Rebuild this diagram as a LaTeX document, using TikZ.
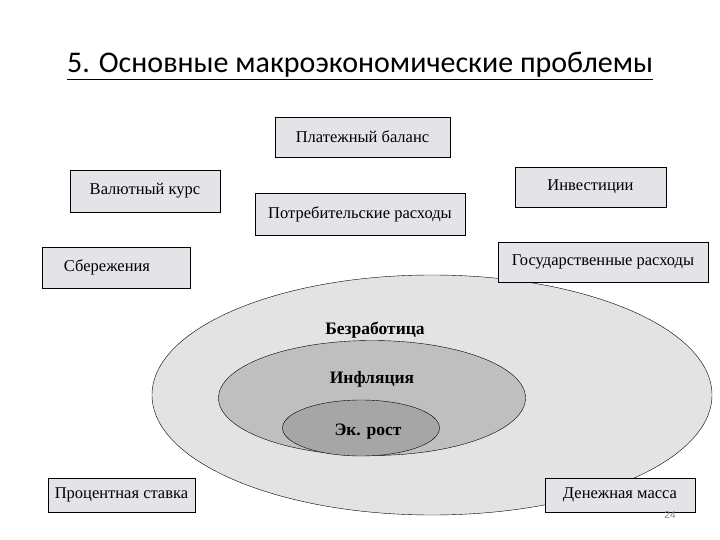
\documentclass[tikz,border=0pt]{standalone}
\usepackage{fontspec}
\usetikzlibrary{shapes.geometric}
\setmainfont{Liberation Serif}
\newfontfamily\titlefont{Carlito}
\newfontfamily\numfont{Liberation Sans}
\begin{document}
\begin{tikzpicture}[x=1pt,y=-1pt,
  bx/.style={draw=black,line width=0.8pt,fill=blue!8!gray!20,font=\fontsize{16.5}{18}\selectfont,inner sep=0pt},
  el/.style={draw=black,ellipse,inner sep=0pt},
  lb/.style={font=\bfseries\fontsize{17.5}{20}\selectfont}]
\useasboundingbox (0,0) rectangle (720,540);
\node[font=\titlefont\fontsize{30}{34}\selectfont] (title) at (360,66) {\underline{5. Основные макроэкономические проблемы}};
\node[el,fill=gray!22,minimum width=560,minimum height=240] (outer) at (432,395) {};
\node[el,fill=gray!50,minimum width=307,minimum height=115] (mid) at (372,398) {};
\node[el,fill=gray!70,minimum width=157,minimum height=56] (inner) at (361,428) {};
\node[lb] (t1) at (375,330) {Безработица};
\node[lb] (t2) at (372,379) {Инфляция};
\node[lb] (t3) at (368,432) {Эк. рост};
\node[bx,minimum width=175,minimum height=40] (b1) at (362.5,137) {Платежный баланс};
\node[bx,minimum width=150,minimum height=42] (b2) at (145,191) {Валютный курс};
\node[bx,minimum width=151,minimum height=40] (b3) at (590.5,187) {Инвестиции};
\node[bx,minimum width=210,minimum height=42] (b4) at (360,214) {Потребительские расходы};
\node[bx,minimum width=148,minimum height=41] (b5) at (116,267.5) {\hspace*{-18pt}Сбережения};
\node[bx,minimum width=210,minimum height=40] (b6) at (603,262) {Государственные расходы};
\node[bx,minimum width=147,minimum height=34] (b7) at (121.5,495) {Процентная ставка};
\node[bx,minimum width=150,minimum height=34] (b8) at (620,495) {Денежная масса};
\node[font=\numfont\fontsize{10}{11}\selectfont,text=gray] (pn) at (670,515) {24};
\end{tikzpicture}
\end{document}
